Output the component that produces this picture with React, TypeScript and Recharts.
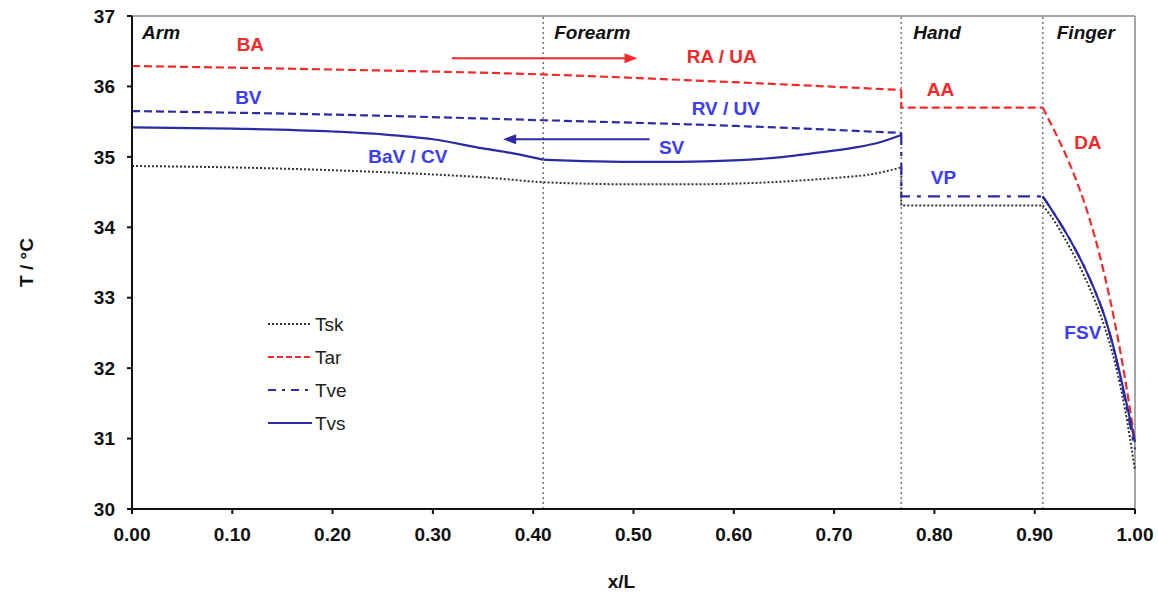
import React from 'react'
import { LineChart, Line, XAxis, YAxis, ReferenceLine, ReferenceDot, Legend, Label } from 'recharts'

// [x/L, T] pairs, split where the curves jump or kink
const tskArm = [
  [0, 34.87], [0.1, 34.85], [0.2, 34.81], [0.3, 34.75], [0.35, 34.71], [0.41, 34.64], [0.45, 34.62],
  [0.5, 34.61], [0.55, 34.61], [0.6, 34.62], [0.65, 34.65], [0.7, 34.7], [0.74, 34.76], [0.767, 34.85],
]
const tskHand = [[0.767, 34.85], [0.767, 34.31], [0.908, 34.31]]
const tskFinger = [
  [0.908, 34.31], [0.92, 34.08], [0.93, 33.84], [0.94, 33.58], [0.95, 33.29], [0.96, 32.96], [0.97, 32.57],
  [0.98, 32.08], [0.99, 31.42], [1.0, 30.55],
]
const tarArm = [[0, 36.29], [0.2, 36.24], [0.41, 36.17], [0.6, 36.06], [0.767, 35.95]]
const tarHand = [[0.767, 35.95], [0.767, 35.7], [0.908, 35.7]]
const tarFinger = [
  [0.908, 35.7], [0.92, 35.36], [0.93, 35.06], [0.94, 34.72], [0.95, 34.33], [0.96, 33.86], [0.97, 33.3],
  [0.98, 32.64], [0.99, 31.86], [1.0, 30.95],
]
const tveArm = [[0, 35.65], [0.2, 35.6], [0.41, 35.52], [0.6, 35.44], [0.767, 35.34]]
const tveHand = [[0.767, 35.34], [0.767, 34.44], [0.908, 34.44]]
const tveFinger = [
  [0.908, 34.44], [0.92, 34.18], [0.93, 33.95], [0.94, 33.7], [0.95, 33.42], [0.96, 33.1], [0.97, 32.72],
  [0.98, 32.2], [0.99, 31.55], [1.0, 30.85],
]
const tvsArm = [
  [0, 35.42], [0.1, 35.4], [0.2, 35.36], [0.25, 35.32], [0.3, 35.25], [0.35, 35.12], [0.38, 35.05], [0.41, 34.96],
]
const tvsForearm = [
  [0.41, 34.96], [0.45, 34.94], [0.5, 34.93], [0.545, 34.93], [0.6, 34.95], [0.65, 35.0], [0.678, 35.05],
  [0.72, 35.13], [0.744, 35.2], [0.767, 35.31],
]
const tvsFinger = [
  [0.908, 34.44], [0.92, 34.18], [0.93, 33.95], [0.94, 33.7], [0.95, 33.42], [0.96, 33.1], [0.97, 32.72],
  [0.98, 32.22], [0.99, 31.6], [1.0, 30.95],
]

const xTicks = [0, 0.1, 0.2, 0.3, 0.4, 0.5, 0.6, 0.7, 0.8, 0.9, 1.0]
const yTicks = [30, 31, 32, 33, 34, 35, 36, 37]
const sectionBounds = [0.41, 0.767, 0.908]

const RED = '#f22a2a'
const BLUE = '#2b2ba8'
const BLUE_TXT = '#3c3cf0'
const DARK = '#333'
const FONT = '"Liberation Sans", Arial, sans-serif'

const DOT = '2 2'
const DASH = '8 4'
const DASHDOT = '12 7 4 7'

const segments = [
  { pts: tskArm, color: DARK, dash: DOT, curve: 'monotone' },
  { pts: tskHand, color: DARK, dash: DOT, curve: 'linear' },
  { pts: tskFinger, color: DARK, dash: DOT, curve: 'monotone' },
  { pts: tarArm, color: RED, dash: DASH, curve: 'monotone' },
  { pts: tarHand, color: RED, dash: DASH, curve: 'linear' },
  { pts: tarFinger, color: RED, dash: DASH, curve: 'monotone' },
  { pts: tveArm, color: BLUE, dash: DASH, curve: 'monotone' },
  { pts: tveHand, color: BLUE, dash: DASHDOT, curve: 'linear' },
  { pts: tveFinger, color: BLUE, dash: DASHDOT, curve: 'monotone' },
  { pts: tvsArm, color: BLUE, dash: undefined, curve: 'monotone' },
  { pts: tvsForearm, color: BLUE, dash: undefined, curve: 'monotone' },
  { pts: tvsFinger, color: BLUE, dash: undefined, curve: 'monotone' },
]

const sectionLabels = [
  { text: 'Arm', x: 0.01, y: 36.77 },
  { text: 'Forearm', x: 0.421, y: 36.77 },
  { text: 'Hand', x: 0.779, y: 36.77 },
  { text: 'Finger', x: 0.922, y: 36.77 },
]
const curveLabels = [
  { text: 'BA', x: 0.118, y: 36.59, color: RED },
  { text: 'RA / UA', x: 0.588, y: 36.42, color: RED },
  { text: 'AA', x: 0.806, y: 35.96, color: RED },
  { text: 'DA', x: 0.953, y: 35.21, color: RED },
  { text: 'BV', x: 0.116, y: 35.84, color: BLUE_TXT },
  { text: 'RV / UV', x: 0.592, y: 35.69, color: BLUE_TXT },
  { text: 'SV', x: 0.538, y: 35.13, color: BLUE_TXT },
  { text: 'BaV / CV', x: 0.275, y: 35.0, color: BLUE_TXT },
  { text: 'VP', x: 0.809, y: 34.7, color: BLUE_TXT },
  { text: 'FSV', x: 0.948, y: 32.5, color: BLUE_TXT },
]
const arrows = [
  { from: [0.319, 36.4], to: [0.504, 36.4], color: RED },
  { from: [0.516, 35.25], to: [0.37, 35.25], color: BLUE },
]

const legendItems = [
  { name: 'Tsk', color: DARK, dash: DOT },
  { name: 'Tar', color: RED, dash: '6 3' },
  { name: 'Tve', color: BLUE, dash: '8 6 3 6' },
  { name: 'Tvs', color: BLUE, dash: undefined },
]

const toData = (pts: number[][]) => pts.map(([x, t]) => ({ x, t }))

function ArrowShape(props: any) {
  const { x1, y1, x2, y2, stroke } = props
  const dir = x2 > x1 ? 1 : -1
  return (
    <g>
      <line x1={x1} y1={y1} x2={x2 - dir * 8} y2={y2} stroke={stroke} strokeWidth={2} />
      <polygon points={`${x2},${y2} ${x2 - dir * 13},${y2 - 5} ${x2 - dir * 13},${y2 + 5}`} fill={stroke} />
    </g>
  )
}

function LegendBox() {
  return (
    <svg width={120} height={130} style={{ fontFamily: FONT }}>
      {legendItems.map((it, i) => (
        <g key={it.name} transform={`translate(0, ${12 + i * 33})`}>
          <line x1={3} x2={47} y1={0} y2={0} stroke={it.color} strokeWidth={2} strokeDasharray={it.dash} />
          <text x={50} y={7} fontSize={19} fill="#222">{it.name}</text>
        </g>
      ))}
    </svg>
  )
}

export default function App() {
  return (
    <div style={{ position: 'absolute', left: 0, top: 0, background: '#fff' }}>
      <LineChart width={1158} height={596} margin={{ top: 16, right: 23, left: 10, bottom: 27 }}>
        <XAxis
          type="number"
          dataKey="x"
          domain={[0, 1]}
          ticks={xTicks}
          tickFormatter={(v: number) => v.toFixed(2)}
          axisLine={{ stroke: '#111', strokeWidth: 2 }}
          tickLine={{ stroke: '#111', strokeWidth: 2 }}
          tickSize={5}
          tickMargin={14}
          height={60}
          tick={{ fill: '#111', fontSize: 19, fontWeight: 700, fontFamily: FONT }}
          allowDuplicatedCategory={false}
        >
          <Label
            content={(p: any) => (
              <text x={p.viewBox.x + p.viewBox.width / 2 - 12} y={p.viewBox.y + 79} textAnchor="middle"
                fontSize={19} fontWeight={700} fontFamily={FONT} fill="#111">x/L</text>
            )}
          />
        </XAxis>
        <YAxis
          type="number"
          domain={[30, 37]}
          ticks={yTicks}
          width={122}
          axisLine={{ stroke: '#111', strokeWidth: 2 }}
          tickLine={{ stroke: '#111', strokeWidth: 2 }}
          tickSize={5}
          tickMargin={12}
          tick={{ fill: '#111', fontSize: 19, fontWeight: 700, fontFamily: FONT }}
        >
          <Label
            content={(p: any) => {
              const cx = p.viewBox.x + 16
              const cy = p.viewBox.y + p.viewBox.height / 2
              return (
                <text x={cx} y={cy} transform={`rotate(-90 ${cx} ${cy})`} textAnchor="middle" dominantBaseline="central"
                  fontSize={19} fontWeight={700} fontFamily={FONT} fill="#111">T / °C</text>
              )
            }}
          />
        </YAxis>

        <ReferenceLine y={37} stroke="#888" strokeWidth={1.5} />
        <ReferenceLine x={1} stroke="#888" strokeWidth={1.5} />
        {sectionBounds.map((b) => (
          <ReferenceLine key={b} x={b} stroke="#777" strokeWidth={1.5} strokeDasharray="2 3" />
        ))}

        {segments.map((s, i) => (
          <Line
            key={i}
            data={toData(s.pts)}
            dataKey="t"
            type={s.curve as any}
            stroke={s.color}
            strokeWidth={s.color === DARK ? 2 : 2.2}
            strokeDasharray={s.dash}
            dot={false}
            isAnimationActive={false}
          />
        ))}

        {arrows.map((a, i) => (
          <ReferenceLine
            key={i}
            segment={[{ x: a.from[0], y: a.from[1] }, { x: a.to[0], y: a.to[1] }]}
            stroke={a.color}
            shape={(p: any) => <ArrowShape {...p} stroke={a.color} />}
          />
        ))}

        {sectionLabels.map((s) => (
          <ReferenceDot key={s.text} x={s.x} y={s.y} r={0}
            shape={(p: any) => (
              <text x={p.cx} y={p.cy} dominantBaseline="central" fontSize={19} fontWeight={700} fontStyle="italic"
                fontFamily={FONT} fill="#111">{s.text}</text>
            )}
          />
        ))}
        {curveLabels.map((s) => (
          <ReferenceDot key={s.text} x={s.x} y={s.y} r={0}
            shape={(p: any) => (
              <text x={p.cx} y={p.cy} textAnchor="middle" dominantBaseline="central" fontSize={19} fontWeight={700}
                fontFamily={FONT} fill={s.color}>{s.text}</text>
            )}
          />
        ))}

        <Legend
          layout="vertical"
          align="center"
          verticalAlign="middle"
          content={() => <LegendBox />}
          wrapperStyle={{ position: 'absolute', left: 265, top: 312, width: 120, height: 130 }}
        />
      </LineChart>
    </div>
  )
}
